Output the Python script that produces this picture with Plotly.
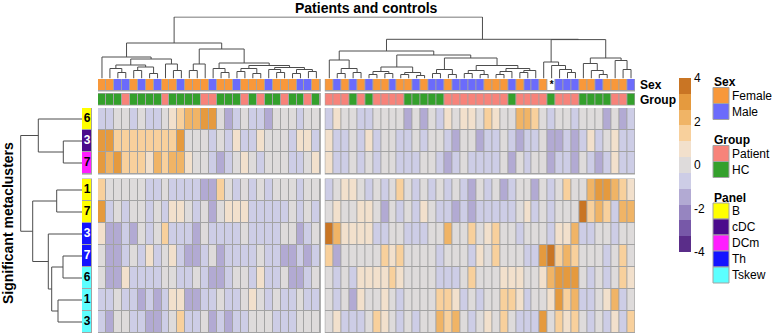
import plotly.graph_objects as go

FONT = "Liberation Sans, Arial, Helvetica, sans-serif"
W, H = 772, 334

# ---------------- data ----------------
N_LEFT, N_RIGHT = 28, 39

sex_left = ["Female", "Female", "Male", "Male", "Female", "Male", "Female", "Male", "Female", "Female",
            "Male", "Female", "Female", "Female", "Male", "Female", "Female", "Male", "Female", "Female",
            "Female", "Male", "Female", "Female", "Female", "Male", "Male", "Female"]
sex_right = ["Female", "Male", "Female", "Male", "Female", "Male", "Female", "Female", "Male", "Female",
             "Female", "Male", "Female", "Male", "Male", "Female", "Male", "Male", "Male", "Male",
             "Female", "Female", "Female", "Male", "Female", "Male", "Male", "Female", None, "Male",
             "Male", "Male", "Female", "Female", "Male", "Female", "Female", "Female", "Male"]
group_left = ["HC", "HC", "HC", "Patient", "HC", "HC", "HC", "HC", "Patient", "HC",
              "HC", "HC", "HC", "Patient", "Patient", "HC", "HC", "HC", "Patient", "HC",
              "Patient", "HC", "HC", "Patient", "HC", "HC", "Patient", "HC"]
group_right = ["Patient", "Patient", "Patient", "HC", "Patient", "HC", "Patient", "Patient", "Patient", "Patient",
               "HC", "HC", "HC", "HC", "HC", "Patient", "Patient", "Patient", "Patient", "Patient",
               "Patient", "Patient", "Patient", "HC", "Patient", "Patient", "Patient", "Patient", "HC", "Patient",
               "Patient", "Patient", "HC", "HC", "HC", "HC", "Patient", "Patient", "HC"]

row_labels = ["6", "3", "7", "1", "7", "3", "7", "6", "1", "3"]
row_panels = ["B", "cDC", "DCm", "B", "B", "Th", "Th", "Tskew", "Tskew", "Tskew"]

mc_B_6 = [-0.7, -0.7, 0, 0, -0.7, 0, -0.7, -0.7, 0, 0.7, 1.5, 2.2, 2.2, 2.9, 2.9, 0, -1.5, -0.7, 0, -0.7, -0.7, -1.5, 0, 0, 0, -0.7, 0, 0,
          -0.7, 0.7, 0, 0, -0.7, -0.7, 0, 0, 0, 0, -1.5, 0, -1.5, 0, -0.7, 0.7, 0, 0.7, 0.7, 0, 1.5, 0.7, 0, 0, 2.2, 2.2, 1.5, 0, -0.7, 0, 0, -0.7, 0, 0, 0, -1.5, 0, -1.5, -0.7]
mc_cDC_3 = [2.9, 2.9, 1.5, 1.5, 1.5, 1.5, 1.5, 1.5, 1.5, 1.5, 2.9, 0, 0, 0, -0.7, 0, -0.7, 0.7, -0.7, -0.7, 0.7, 0, 0, 0, -0.7, 0.7, 0.7, -0.7,
            0.7, -0.7, -0.7, 0, -0.7, 0.7, -0.7, 0, 0, -0.7, -0.7, 0, -0.7, 0, 0, -0.7, -1.5, 0, 0, -1.5, -0.7, -0.7, 0, -0.7, -1.5, -0.7, -0.7, 0, -1.5, -1.5, -0.7, -1.5, -0.7, 0.7, -0.7, 0, 0.7, -0.7, -0.7]
mc_DCm_7 = [2.9, 2.2, 2.9, 1.5, 1.5, 1.5, 0.7, 2.2, 1.5, 2.2, 2.2, 0.7, 0, 0, -0.7, -1.5, -0.7, 0, 0.7, 0, -0.7, 0, 0, 0, -0.7, -0.7, 0, 0.7,
            0.7, -0.7, -0.7, 0, -0.7, 0, -0.7, 0, 0, -0.7, -0.7, -0.7, 0, 0, -0.7, -1.5, -0.7, 0, -0.7, -0.7, -0.7, -0.7, 0, -1.5, 0, -0.7, 0, 0, -1.5, -0.7, -0.7, -1.5, 0, -0.7, -1.5, -0.7, 0.7, -0.7, -0.7]
mc_B_1 = [1.5, 0, 0, 0, 0, 0, -0.7, -0.7, 0, -0.7, -0.7, -0.7, -0.7, -1.5, -1.5, 1.5, 0, -0.7, 0, -0.7, 0, -0.7, 0, 0, 0, -0.7, 0, 0,
          -0.7, 0, 0.7, 0.7, 0, -0.7, 0, -0.7, 0, 1.5, 0, -0.7, 0, -0.7, 0, -0.7, 0, -0.7, -1.5, 0, -0.7, 0, -1.5, -0.7, 0, 0, -1.5, 0, -0.7, 0, 1.5, 0, 0, 2.2, 2.9, 2.9, 2.2, 1.5, 0.7]
mc_B_7 = [2.9, -0.7, 0, -0.7, 0, 0, -0.7, 0, -0.7, 0.7, 0.7, 0, -0.7, 0, -1.5, 0, 0.7, 0.7, 0.7, -0.7, -0.7, -0.7, -0.7, -0.7, 0, -0.7, 0, -0.7,
          0, 0.7, 0, 0, 0.7, 0.7, 0, -1.5, 0, -0.7, 0, -0.7, 0.7, 0, -0.7, -0.7, -1.5, -0.7, -1.5, -0.7, -0.7, -0.7, -0.7, -0.7, 0, 0.7, -0.7, 0, -0.7, 0, 0, 0, 3.6, 1.5, 2.2, 1.5, -0.7, 2.2, 2.2]
mc_Th_3 = [0.7, -1.5, -1.5, -0.7, -1.5, 0, -0.7, 0, 1.5, -0.7, -0.7, -0.7, -1.5, 0, -0.7, -0.7, -0.7, -0.7, 0, -0.7, -0.7, -0.7, -0.7, 0, 0, -1.5, -0.7, 0,
           3.7, 2.2, 0.7, 0.7, 0.7, 0.7, -0.7, -0.7, 0, 0, -0.7, -0.7, -0.7, 0, 0, 2.2, 0, 0, 1.5, 0, 0.7, 1.5, 0, 0, -0.7, 0, 0, 0, -0.7, 0.7, 0.7, 2.2, -0.7, -0.7, 0, 0, -0.7, 0, 0]
mc_Th_7 = [0, -1.5, -1.5, -0.7, 0, -0.7, 0.7, -0.7, 0, 0.7, -0.7, -1.5, -1.5, -0.7, 0, -1.5, -0.7, -0.7, -0.7, -0.7, 0, -0.7, -0.7, -1.5, -1.5, -0.7, -1.5, -0.7,
           1.5, -1.5, 0, 0, 0, 0, 0, 1.5, 0.7, 1.5, 0, 0, 0, 0, -0.7, 0, 0, 0, -0.7, 0.7, 0, 1.5, 0, 0, 0, -0.7, -0.7, 2.9, 3.6, 1.5, 2.2, 1.5, 0, 0, 0, -0.7, 0, 1.5, 0]
mc_Tskew_6 = [0, -1.5, -1.5, 0.7, -0.7, -0.7, -0.7, -0.7, 0, 0, -0.7, -0.7, 0, -0.7, -1.5, -1.5, -0.7, 0, 0, -0.7, 0.7, -0.7, -0.7, 0, -1.5, -1.5, -0.7, 0,
              0, -0.7, 0, -0.7, 0.7, 0.7, 0.7, 0.7, 1.5, 0.7, 0, 0, 0, 0, -0.7, -0.7, -0.7, 0, 1.5, 0, 0, 0, 0.7, 0.7, 0.7, 0, 0, 0.7, 2.2, 2.9, 2.9, 2.9, 0, -0.7, 0, -0.7, 0, 1.5, 0.7]
mc_Tskew_1 = [-0.7, -0.7, 0, -0.7, -0.7, -1.5, -0.7, -1.5, -0.7, 0.7, 0.7, -1.5, -1.5, -0.7, -0.7, 0, -0.7, -0.7, 0, 0.7, 0, -0.7, 0, -0.7, -0.7, 0, -0.7, -0.7,
              0, -0.7, 0, -1.5, 0.7, 0, 0, 0.7, 0, -0.7, 0, 0, 0, 0, 1.5, 1.5, 0.7, -0.7, 0, -0.7, 0, 0, 1.5, 1.5, 0.7, -0.7, 0, 0, 0.7, 2.9, 1.5, 2.2, -0.7, -0.7, 0, 0.7, 2.2, -0.7, 0]
mc_Tskew_3 = [-0.7, -1.5, 0, 0, -0.7, -0.7, -1.5, -1.5, -0.7, 0, 1.5, -0.7, -0.7, 0, -1.5, -0.7, -1.5, -0.7, -0.7, 0, 0, 0, -0.7, -0.7, -0.7, 0, 0, 0,
              0, 0.7, -0.7, -0.7, -0.7, 0, 1.5, 0.7, 0, -0.7, 0, -0.7, 0, 0, 2.2, 1.5, 2.2, 0, -0.7, 0, 0.7, 0, 1.5, 0, -0.7, -0.7, -0.7, 2.9, 0, 1.5, 0.7, 1.5, 0, -0.7, 0, -0.7, 0.7, -0.7, 1.5]

heat_rows = [mc_B_6, mc_cDC_3, mc_DCm_7, mc_B_1, mc_B_7, mc_Th_3, mc_Th_7, mc_Tskew_6, mc_Tskew_1, mc_Tskew_3]
N_TOP = 3

# dendrograms: [left, right, height]; leaves are column / row indices
col_tree_left = [
    [0, [[[1, [2, 3, 6], 10], [[4, 5, 8], [6, 7, 5], 11.5], 13.5], [8, [9, 10, 8], 14.5], 19.5], 21.5],
    [[[11, 12, 8], 13, 14.5],
     [[14, [15, 16, 6], 10],
      [[[17, 18, 7], [19, 20, 5], 10], [[21, [22, 23, 6], 9], [[24, 25, 5], [26, 27, 7], 9], 11], 13], 15.5],
     29.5],
    35.5]
col_tree_right = [
    [[0, [[1, 2, 5], [3, 4, 6], 10], 18.5],
     [[[[5, 6, 4], [7, 8, 5], 7], [[9, 10, 4], [11, 12, 3], 6], 11.5],
      [[[13, 14, 5], [15, 16, 4], 9],
       [[[17, 18, 5], [19, 20, 4], 8], [[[21, 22, 4], 23, 7], [[24, 25, 6], 26, 8], 10], 13], 20.5],
      23.5],
     27.5],
    [[27, [28, [29, [30, 31, 6], 9], 13], 16.5],
     [[32, [33, [34, 35, 4], 8], 15], [36, [37, 38, 9], 18], 20.5],
     38.9],
    39.2]
col_root_height = 61.5

row_tree = [
    [0, [1, 2, 18.7], 43.7],
    [[3, 4, 25.3], [5, [[6, 7, 19], [8, 9, 24], 30.3], 33.7], 49.3],
    61.3]

heat_colors = ["#5A2D89", "#7758A8", "#9685C0", "#B2AAD3", "#CDCDE6", "#DEDBDB",
               "#F2E0CC", "#F8D09C", "#F0B466", "#E59A3E", "#C97524"]
heat_ticks = [-4, -2, 0, 2, 4]
sex_levels = ["Female", "Male"]
sex_colors = ["#F8983A", "#6B6BFB"]
group_levels = ["Patient", "HC"]
group_colors = ["#F7837A", "#34A02C"]
panel_levels = ["B", "cDC", "DCm", "Th", "Tskew"]
panel_colors = ["#FFFF00", "#4B0A8C", "#FF1EFF", "#1414FF", "#5CFFFF"]
panel_text_white = ["cDC", "Th"]

for r in heat_rows:
    assert len(r) == N_LEFT + N_RIGHT, len(r)

# ---------------- geometry ----------------
BORDER = "#A3A3A3"
LINE = "#4D4D4D"
COL_U = (635 - 98 - 5) / (N_LEFT + N_RIGHT)  # px per column
G = 5 / COL_U
ROW_U = 22.0
GR = 5 / ROW_U
GA = 0.25


def px(x):
    return x / W


def py(y):
    return 1 - y / H


def colpos(i):
    return i if i < N_LEFT else i + G


def rowpos(k):
    return k if k < N_TOP else k + GR


def step_scale(colors):
    n = len(colors)
    sc = []
    for k, c in enumerate(colors):
        sc.append([k / n, c])
        sc.append([(k + 1) / n, c])
    return sc


def shift(node, k):
    if isinstance(node, int):
        return node + k
    return [shift(node[0], k), shift(node[1], k), node[2]]


def dendro(node, pos, xs, ys):
    if isinstance(node, int):
        return pos(node), 0.0
    a, b, h = node
    pa, ha = dendro(a, pos, xs, ys)
    pb, hb = dendro(b, pos, xs, ys)
    xs += [pa, pa, pb, pb, None]
    ys += [ha, h, h, hb, None]
    return (pa + pb) / 2, h


fig = go.Figure()
shapes = []
annotations = []
E = 0.07

col_blocks = [(0, N_LEFT), (N_LEFT, N_LEFT + N_RIGHT)]
row_blocks = [(0, N_TOP), (N_TOP, len(heat_rows))]

# main heatmap
first = True
for (c0, c1) in col_blocks:
    for (r0, r1) in row_blocks:
        z = [heat_rows[r][c0:c1] for r in range(r0, r1)]
        fig.add_trace(go.Heatmap(
            z=z, x0=colpos(c0), dx=1, y0=rowpos(r0), dy=1,
            xaxis="x", yaxis="y", zmin=-4, zmax=4,
            colorscale=step_scale(heat_colors), xgap=1, ygap=1,
            showscale=first, hoverinfo="skip",
            colorbar=dict(x=px(679), xanchor="left", y=py(78), yanchor="top",
                          len=174, lenmode="pixels", thickness=12, thicknessmode="pixels",
                          tickvals=heat_ticks, ticktext=[str(t) for t in heat_ticks],
                          ticks="", outlinewidth=0, xpad=0, ypad=0,
                          tickfont=dict(family=FONT, size=12, color="black"))))
        first = False
        shapes.append(dict(type="rect", xref="x", yref="y", layer="below",
                           x0=colpos(c0) - 0.5 - E, x1=colpos(c1 - 1) + 0.5 + E,
                           y0=rowpos(r0) - 0.5 - E * 0.4, y1=rowpos(r1 - 1) + 0.5 + E * 0.4,
                           fillcolor=BORDER, line=dict(width=0)))

# column annotations
sex_all = sex_left + sex_right
group_all = group_left + group_right
sex_code = [sex_levels.index(s) if s in sex_levels else 2 for s in sex_all]
group_code = [group_levels.index(g) for g in group_all]
ann_rows = [(sex_code, sex_colors + ["#FFFFFF"], 0), (group_code, group_colors, 1 + GA)]
for codes, cols, yv in ann_rows:
    for (c0, c1) in col_blocks:
        fig.add_trace(go.Heatmap(
            z=[codes[c0:c1]], x0=colpos(c0), dx=1, y0=yv, dy=1,
            xaxis="x", yaxis="y2", zmin=0, zmax=len(cols) - 1,
            colorscale=step_scale(cols), xgap=1, ygap=1, showscale=False, hoverinfo="skip"))
        shapes.append(dict(type="rect", xref="x", yref="y2", layer="below",
                           x0=colpos(c0) - 0.5 - E, x1=colpos(c1 - 1) + 0.5 + E,
                           y0=yv - 0.5 - 0.06, y1=yv + 0.5 + 0.06,
                           fillcolor=BORDER, line=dict(width=0)))
na_idx = [i for i, s in enumerate(sex_all) if s not in sex_levels]
fig.add_trace(go.Scatter(x=[colpos(i) for i in na_idx], y=[0.05] * len(na_idx), mode="text",
                         text=["<b>*</b>"] * len(na_idx), xaxis="x", yaxis="y2",
                         textfont=dict(family=FONT, size=10, color="black"), hoverinfo="skip"))

# row annotation boxes
panel_code = [panel_levels.index(p) for p in row_panels]
for (r0, r1) in row_blocks:
    fig.add_trace(go.Heatmap(
        z=[[panel_code[r]] for r in range(r0, r1)], x0=0, dx=1, y0=rowpos(r0), dy=1,
        xaxis="x3", yaxis="y", zmin=0, zmax=len(panel_levels) - 1,
        colorscale=step_scale(panel_colors), xgap=1, ygap=1, showscale=False, hoverinfo="skip"))
    shapes.append(dict(type="rect", xref="x3", yref="y", layer="below",
                       x0=-0.5 - 0.06, x1=0.5 + 0.06,
                       y0=rowpos(r0) - 0.5 - E * 0.4, y1=rowpos(r1 - 1) + 0.5 + E * 0.4,
                       fillcolor=BORDER, line=dict(width=0)))
fig.add_trace(go.Scatter(
    x=[0] * len(row_labels), y=[rowpos(k) for k in range(len(row_labels))], mode="text",
    text=["<b>%s</b>" % t for t in row_labels], xaxis="x3", yaxis="y",
    textfont=dict(family=FONT, size=12,
                  color=["white" if p in panel_text_white else "black" for p in row_panels]),
    hoverinfo="skip"))

# column dendrogram
xs, ys = [], []
pl, hl = dendro(col_tree_left, colpos, xs, ys)
pr, hr = dendro(shift(col_tree_right, N_LEFT), colpos, xs, ys)
xs += [pl, pl, pr, pr, None]
ys += [hl, col_root_height, col_root_height, hr, None]
fig.add_trace(go.Scatter(x=xs, y=ys, mode="lines", xaxis="x", yaxis="y3",
                         line=dict(color=LINE, width=1), hoverinfo="skip"))

# row dendrogram
hs, rs = [], []
dendro(row_tree, rowpos, rs, hs)
fig.add_trace(go.Scatter(x=hs, y=rs, mode="lines", xaxis="x2", yaxis="y",
                         line=dict(color=LINE, width=1), hoverinfo="skip"))

# legends (swatches + labels)
SW = 16
LX = 713
legend_groups = [("Sex", sex_levels, sex_colors, 82),
                 ("Group", group_levels, group_colors, 140),
                 ("Panel", panel_levels, panel_colors, 197.5)]
for title, levels, cols, ty in legend_groups:
    annotations.append(dict(x=px(LX - 1), y=py(ty), xref="paper", yref="paper", text="<b>%s</b>" % title,
                            showarrow=False, xanchor="left", yanchor="middle",
                            font=dict(family=FONT, size=12, color="black")))
    top = ty + 5.5
    for k, (lv, c) in enumerate(zip(levels, cols)):
        y0 = top + k * SW
        shapes.append(dict(type="rect", xref="paper", yref="paper",
                           x0=px(LX), x1=px(LX + SW), y0=py(y0), y1=py(y0 + SW),
                           fillcolor=c, line=dict(color=BORDER, width=1)))
        annotations.append(dict(x=px(LX + SW + 1), y=py(y0 + SW / 2), xref="paper", yref="paper",
                                text=lv, showarrow=False, xanchor="left", yanchor="middle",
                                font=dict(family=FONT, size=12, color="black")))

# texts
annotations.append(dict(x=px(366), y=py(8), xref="paper", yref="paper",
                        text="<b>Patients and controls</b>", showarrow=False,
                        xanchor="center", yanchor="middle", font=dict(family=FONT, size=14, color="black")))
annotations.append(dict(x=px(8), y=py(223), xref="paper", yref="paper",
                        text="<b>Significant metaclusters</b>", showarrow=False, textangle=-90,
                        xanchor="center", yanchor="middle", font=dict(family=FONT, size=14, color="black")))
for lab, yc in [("Sex", 85), ("Group", 99.8)]:
    annotations.append(dict(x=px(638), y=py(yc), xref="paper", yref="paper",
                            text="<b>%s</b>" % lab, showarrow=False, xanchor="left", yanchor="middle",
                            font=dict(family=FONT, size=12, color="black")))

hidden = dict(visible=False, showgrid=False, zeroline=False, fixedrange=True)
fig.update_layout(
    width=W, height=H, autosize=False,
    margin=dict(l=0, r=0, t=0, b=0, pad=0),
    paper_bgcolor="white", plot_bgcolor="white",
    showlegend=False,
    font=dict(family=FONT, color="black"),
    xaxis=dict(domain=[px(98), px(635)], range=[-0.5, N_LEFT + N_RIGHT - 0.5 + G], anchor="y", **hidden),
    yaxis=dict(domain=[py(333), py(108)], range=[len(heat_rows) - 0.5 + GR, -0.5], anchor="x", **hidden),
    yaxis2=dict(domain=[py(105.5), py(79)], range=[1.5 + GA, -0.5], anchor="x", **hidden),
    yaxis3=dict(domain=[py(78.5), py(16.5)], range=[0, 62], anchor="x", **hidden),
    xaxis2=dict(domain=[px(18), px(82)], range=[64, 0], anchor="y", **hidden),
    xaxis3=dict(domain=[px(82), px(92)], range=[-0.5, 0.5], anchor="y", **hidden),
    shapes=shapes,
    annotations=annotations,
)

# the page body gets no default margin so the 772x334 figure fills the window exactly
fig.write_html("out.html", config={"displayModeBar": False},
               post_script="document.body.style.margin='0';document.body.style.overflow='hidden';")
